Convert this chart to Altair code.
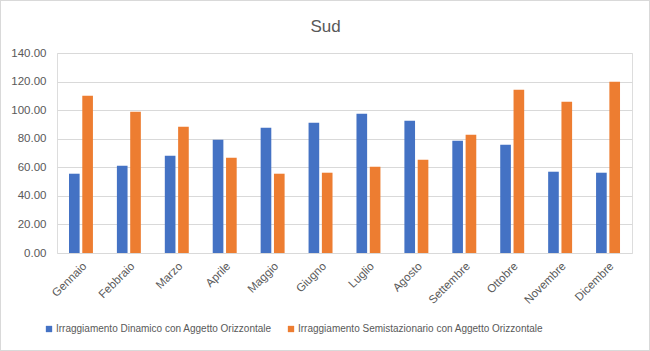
import altair as alt
import pandas as pd

months = ["Gennaio", "Febbraio", "Marzo", "Aprile", "Maggio", "Giugno",
          "Luglio", "Agosto", "Settembre", "Ottobre", "Novembre", "Dicembre"]
series_names = ["Irraggiamento Dinamico con Aggetto Orizzontale",
                "Irraggiamento Semistazionario con Aggetto Orizzontale"]
dinamico = [55.5, 61.1, 68.1, 79.3, 87.7, 91.2, 97.5, 92.6, 78.6, 75.8, 56.9, 56.2]
semistaz = [110.1, 98.9, 88.4, 66.7, 55.5, 56.2, 60.4, 65.3, 82.8, 114.3, 105.9, 119.9]
colors = ["#4472C4", "#ED7D31"]

rows = []
for i, m in enumerate(months):
    rows.append({"mese": m, "serie": series_names[0], "valore": dinamico[i]})
    rows.append({"mese": m, "serie": series_names[1], "valore": semistaz[i]})
df = pd.DataFrame(rows)

FONT = "Liberation Sans, Arial, sans-serif"
GRAY = "#595959"

bars = alt.Chart(df).mark_bar().encode(
    x=alt.X("mese:N", sort=months, title=None,
            scale=alt.Scale(paddingInner=0.5, paddingOuter=0.25),
            axis=alt.Axis(labelAngle=-45, labelColor=GRAY, labelFontSize=11.5,
                          labelFont=FONT, ticks=False, domain=False,
                          labelPadding=7)),
    xOffset=alt.XOffset("serie:N", sort=series_names,
                        scale=alt.Scale(paddingInner=0.2, paddingOuter=0)),
    y=alt.Y("valore:Q", title=None,
            scale=alt.Scale(domain=[0, 140], nice=False),
            axis=alt.Axis(values=[0, 20, 40, 60, 80, 100, 120, 140], format=".2f",
                          labelColor=GRAY, labelFontSize=11.5, labelFont=FONT,
                          ticks=False, domain=False, labelPadding=11,
                          gridColor="#d9d9d9", gridWidth=1)),
    color=alt.Color("serie:N", sort=series_names,
                    scale=alt.Scale(domain=series_names, range=colors),
                    legend=alt.Legend(title=None, orient="none", direction="horizontal",
                                      legendX=-13, legendY=271,
                                      symbolType="square", symbolSize=40,
                                      symbolStrokeWidth=0,
                                      labelFont=FONT, labelFontSize=10,
                                      labelColor=GRAY, columnPadding=14,
                                      labelOffset=2, labelLimit=400)),
)

border = alt.Chart(df).mark_rect(fill=None, stroke="#d9d9d9", strokeWidth=1, clip=False).encode(
    x=alt.value(-56.5), x2=alt.value(592.5), y=alt.value(-52.5), y2=alt.value(297.5)
)

chart = alt.layer(border, bars).properties(
    width=575, height=200,
    title=alt.TitleParams("Sud", font=FONT, fontSize=17, color=GRAY,
                          fontWeight="normal", anchor="middle", dx=-19, offset=-36),
    autosize=alt.AutoSizeParams(type="none"),
    padding={"left": 57, "top": 53, "right": 18, "bottom": 98},
).configure_view(stroke=None).configure(background="white")

chart.save("out.html", embed_options={"renderer": "svg", "actions": False})
